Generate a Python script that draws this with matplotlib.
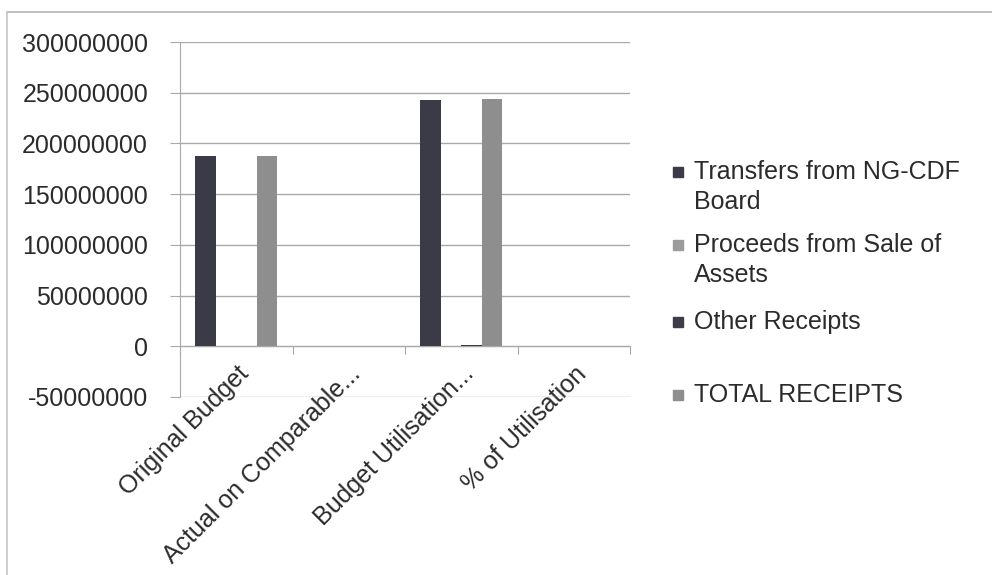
import numpy as np
import matplotlib.pyplot as plt
from matplotlib.patches import Rectangle
from matplotlib.lines import Line2D

plt.rcParams['font.family'] = ['Liberation Sans', 'DejaVu Sans']

categories = ['Original Budget', 'Actual on Comparable...', 'Budget Utilisation...', '% of Utilisation']
series = ['Transfers from NG-CDF\nBoard', 'Proceeds from Sale of\nAssets', 'Other Receipts', 'TOTAL RECEIPTS']
transfers = [187500000, 0, 242500000, 0]
proceeds = [0, 0, 0, 0]
other = [0, 0, 1200000, 0]
total = [187500000, 0, 243800000, 0]
yticks = [-50000000, 0, 50000000, 100000000, 150000000, 200000000, 250000000, 300000000]

colors = ['#3b3b47', '#9b9b9b', '#3d3d48', '#8e8e8e']
txt = '#2b2b2b'
grid = '#a9a9a9'

fig = plt.figure(figsize=(9.92, 5.75), dpi=100)
ax = fig.add_axes([180/992, 1-397/575, 450/992, 355/575])

x = np.arange(len(categories))
w = 0.182
vals = [transfers, proceeds, other, total]
for i, v in enumerate(vals):
    ax.bar(x + (i-1.5)*w, v, w, color=colors[i], zorder=3)

ax.set_xlim(-0.5, 3.5)
ax.set_ylim(-50000000, 300000000)
ax.set_yticks(yticks)
ax.set_yticklabels([str(t) for t in yticks])
ax.yaxis.grid(True, color=grid, lw=1)
ax.set_axisbelow(True)

for s in ['top', 'right']:
    ax.spines[s].set_visible(False)
ax.spines['left'].set_color(grid)
ax.spines['bottom'].set_color(grid)
ax.spines['bottom'].set_position(('data', 0))

ax.tick_params(axis='y', length=7, color=grid, labelsize=18, labelcolor=txt, pad=16)
ax.set_xticks(np.arange(-0.5, 4, 1))
ax.set_xticklabels([])
ax.tick_params(axis='x', which='major', length=6, color=grid)
ax.set_xticks(x, minor=True)
ax.set_xticklabels(categories, minor=True)
ax.tick_params(axis='x', which='minor', length=0, pad=11, labelsize=18, labelcolor=txt)
plt.setp(ax.get_xticklabels(minor=True), rotation=45, ha='right', rotation_mode='anchor')

# legend drawn by hand so every entry gets the same slot height
leg_y = [172, 245, 322, 395]
for i, name in enumerate(series):
    yc = 1 - leg_y[i]/575
    fig.patches.append(Rectangle((673/992, yc - 5/575), 10/992, 10/575,
                                 transform=fig.transFigure, color=colors[i]))
    fig.text(694/992, yc + 12/575, name, fontsize=18, color=txt,
             va='top', ha='left', linespacing=1.3)

# chart border (top and left edges visible in the scan)
fig.add_artist(Line2D([7/992, 1], [1-12/575, 1-12/575], color='#b5b5b5', lw=1.2))
fig.add_artist(Line2D([7/992, 7/992], [0, 1-12/575], color='#c5c5c5', lw=1.2))

fig.savefig('out.png', dpi=100)
